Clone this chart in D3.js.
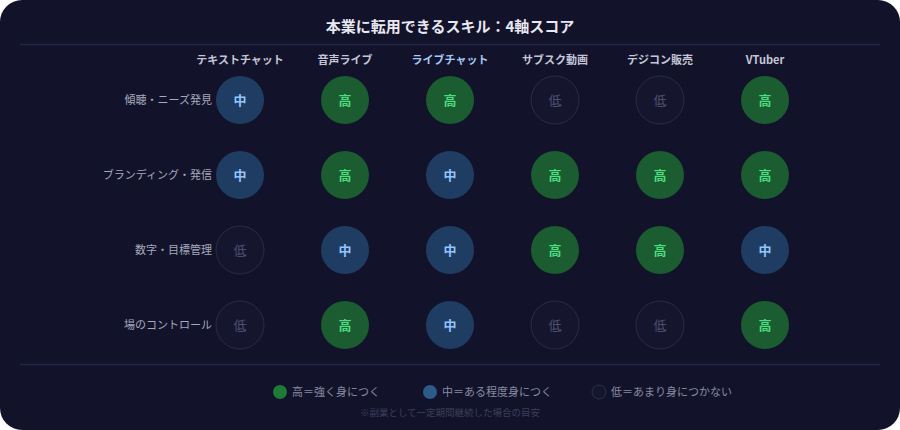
<!DOCTYPE html>
<html>
<head>
<meta charset="utf-8">
<script src="https://cdn.jsdelivr.net/npm/d3@7"></script>
<style>
  html, body { margin: 0; padding: 0; background: #ffffff; }
  svg { display: block; font-family: "Noto Sans CJK JP", "Noto Sans", sans-serif; }
</style>
</head>
<body>
<div id="chart"></div>
<script>
// data
var columns = ['テキストチャット', '音声ライブ', 'ライブチャット', 'サブスク動画', 'デジコン販売', 'VTuber'];
var skills = ['傾聴・ニーズ発見', 'ブランディング・発信', '数字・目標管理', '場のコントロール'];
var scores = [
  ['中', '高', '高', '低', '低', '高'],
  ['中', '高', '中', '高', '高', '高'],
  ['低', '中', '中', '高', '高', '中'],
  ['低', '高', '中', '低', '低', '高']
];
var levels = ['高', '中', '低'];
var legendLabels = ['高＝強く身につく', '中＝ある程度身につく', '低＝あまり身につかない'];
var highlightColumn = 'ライブチャット';

var W = 900, H = 430;

var svg = d3.select('#chart').append('svg').attr('width', W).attr('height', H);

// card
svg.append('rect').attr('x', 0).attr('y', 0).attr('width', W).attr('height', H)
  .attr('rx', 22).attr('fill', '#12132a');

svg.append('text').attr('x', W / 2).attr('y', 32).attr('text-anchor', 'middle')
  .attr('fill', '#e8e8f2').attr('font-size', 15).attr('font-weight', 700)
  .text('本業に転用できるスキル：4軸スコア');

svg.append('line').attr('x1', 20).attr('x2', 880).attr('y1', 44.5).attr('y2', 44.5)
  .attr('stroke', '#22244a').attr('stroke-width', 1.5);
svg.append('line').attr('x1', 20).attr('x2', 880).attr('y1', 364.5).attr('y2', 364.5)
  .attr('stroke', '#22244a').attr('stroke-width', 1.5);

// scales
var x = d3.scalePoint().domain(columns).range([240, 765]);
var y = d3.scalePoint().domain(skills).range([100, 325]);
var fill = d3.scaleOrdinal().domain(levels).range(['#1b5c30', '#1f3d63', '#15162e']);
var stroke = d3.scaleOrdinal().domain(levels).range(['none', 'none', '#2a2b48']);
var textCol = d3.scaleOrdinal().domain(levels).range(['#4ade80', '#93c5fd', '#4d4e70']);

// column headers
svg.selectAll('.colhead').data(columns).enter().append('text')
  .attr('class', 'colhead')
  .attr('x', function(d) { return x(d); })
  .attr('y', 64)
  .attr('text-anchor', 'middle')
  .attr('font-size', 11).attr('font-weight', 700)
  .attr('fill', function(d) { return d == highlightColumn ? '#a5c8f5' : '#c4c6d8'; })
  .text(function(d) { return d; });

// row labels
svg.selectAll('.rowhead').data(skills).enter().append('text')
  .attr('class', 'rowhead')
  .attr('x', 212)
  .attr('y', function(d) { return y(d); })
  .attr('dy', '0.35em')
  .attr('text-anchor', 'end')
  .attr('font-size', 11)
  .attr('fill', '#a6a8be')
  .text(function(d) { return d; });

// cells
var cells = [];
skills.forEach(function(s, i) {
  columns.forEach(function(c, j) {
    cells.push({skill: s, col: c, v: scores[i][j]});
  });
});

var g = svg.selectAll('.cell').data(cells).enter().append('g')
  .attr('class', 'cell')
  .attr('transform', function(d) { return 'translate(' + x(d.col) + ',' + y(d.skill) + ')'; });

g.append('circle').attr('r', 24)
  .attr('fill', function(d) { return fill(d.v); })
  .attr('stroke', function(d) { return stroke(d.v); })
  .attr('stroke-width', 1);

g.append('text').attr('text-anchor', 'middle').attr('dy', '0.36em')
  .attr('font-size', 13)
  .attr('font-weight', function(d) { return d.v == '低' ? 400 : 700; })
  .attr('fill', function(d) { return textCol(d.v); })
  .text(function(d) { return d.v; });

// legend
var legendX = d3.scaleOrdinal().domain(levels).range([280, 430, 599]);
var lg = svg.selectAll('.legend').data(levels).enter().append('g')
  .attr('class', 'legend')
  .attr('transform', function(d) { return 'translate(' + legendX(d) + ',392)'; });

lg.append('circle').attr('r', 7)
  .attr('fill', function(d, i) { return ['#1e7a34', '#2d5a88', '#15162e'][i]; })
  .attr('stroke', function(d, i) { return i == 2 ? '#2e2f4c' : 'none'; });

lg.append('text').attr('x', 12).attr('dy', '0.35em')
  .attr('font-size', 11).attr('fill', '#878aa3')
  .text(function(d, i) { return legendLabels[i]; });

svg.append('text').attr('x', 450).attr('y', 413).attr('dy', '0.35em')
  .attr('text-anchor', 'middle').attr('font-size', 9.5).attr('fill', '#3d3f5c')
  .text('※副業として一定期間継続した場合の目安');
</script>
</body>
</html>
